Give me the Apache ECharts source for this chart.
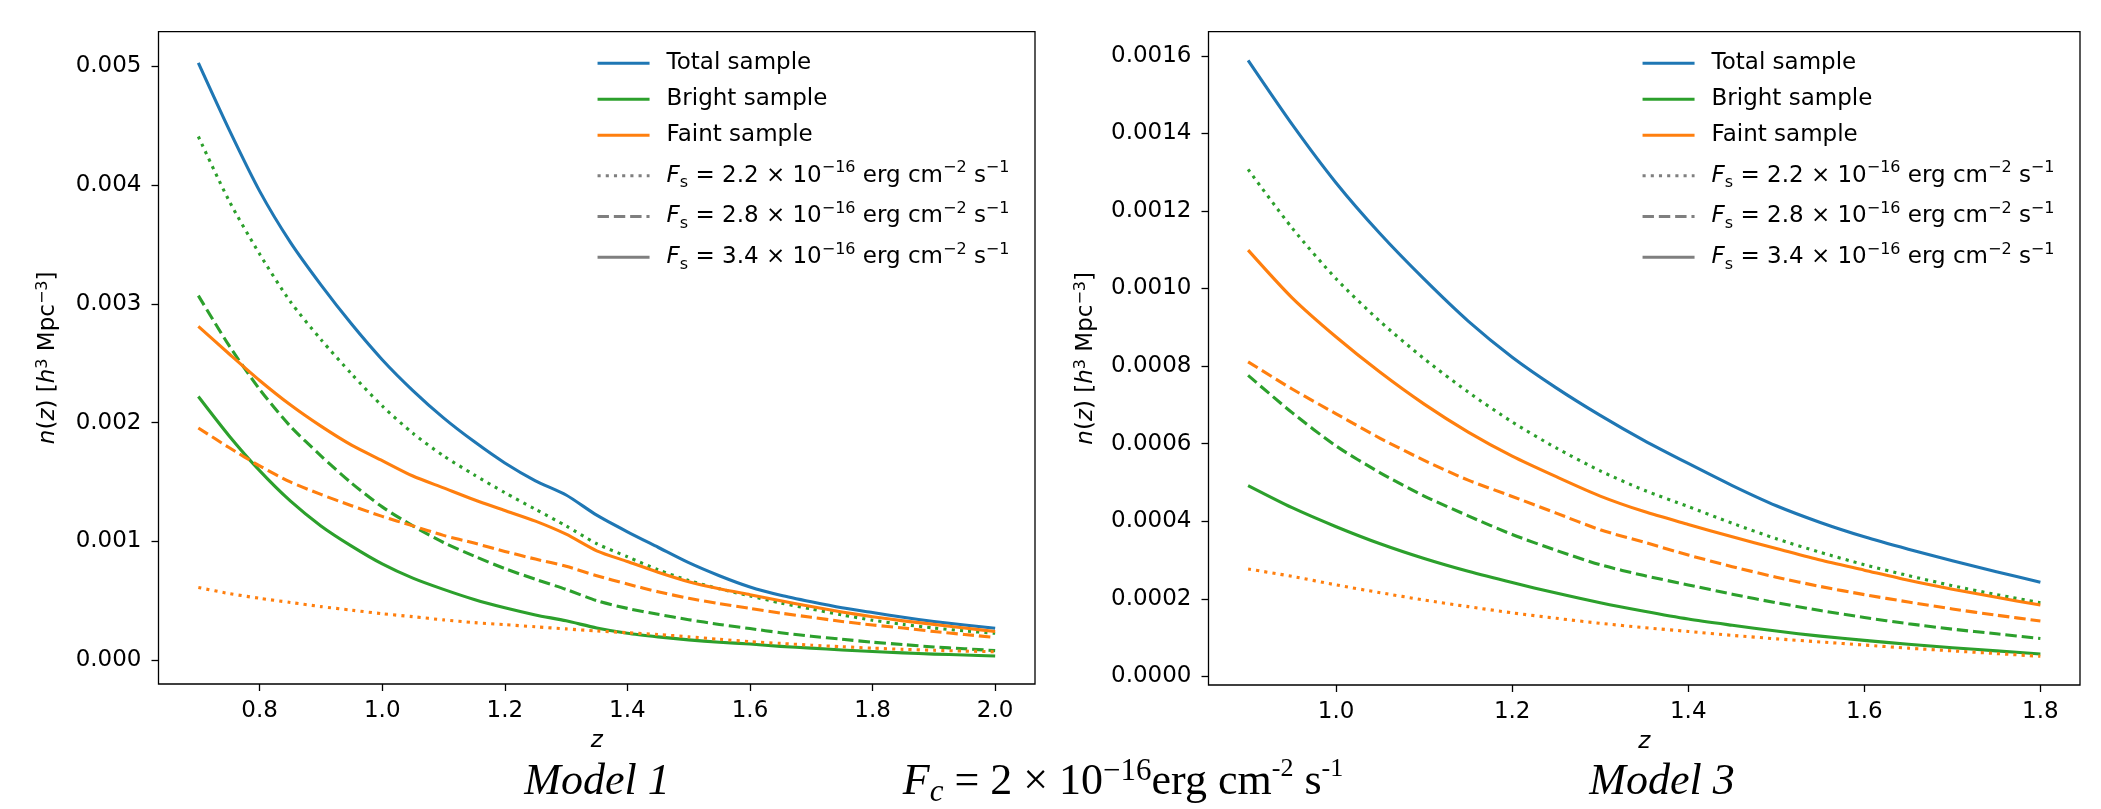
<!DOCTYPE html>
<html><head><meta charset="utf-8">
<script src="https://cdn.jsdelivr.net/npm/echarts@6/dist/echarts.min.js"></script>
<style>html,body{margin:0;padding:0;background:#fff}#c{width:2101px;height:809px}</style>
</head><body><div id="c"></div><script>
// ---------- Model 1 (left panel) ----------
const zM1 = [0.70,0.75,0.80,0.85,0.90,0.95,1.00,1.05,1.10,1.15,1.20,1.25,1.30,1.35,1.40,1.45,1.50,1.55,1.60,1.65,1.70,1.75,1.80,1.85,1.90,1.95,2.00];
const totalM1    = [5.03e-3,4.47e-3,3.95e-3,3.52e-3,3.16e-3,2.83e-3,2.53e-3,2.27e-3,2.04e-3,1.84e-3,1.66e-3,1.51e-3,1.39e-3,1.22e-3,1.08e-3,0.95e-3,0.82e-3,0.71e-3,0.615e-3,0.545e-3,0.49e-3,0.44e-3,0.40e-3,0.36e-3,0.325e-3,0.295e-3,0.267e-3];
const brightM1_22 = [4.41e-3,3.87e-3,3.42e-3,3.02e-3,2.70e-3,2.41e-3,2.14e-3,1.91e-3,1.72e-3,1.56e-3,1.41e-3,1.27e-3,1.13e-3,0.98e-3,0.87e-3,0.76e-3,0.67e-3,0.60e-3,0.54e-3,0.48e-3,0.43e-3,0.38e-3,0.335e-3,0.30e-3,0.27e-3,0.245e-3,0.225e-3];
const brightM1_28 = [3.07e-3,2.65e-3,2.28e-3,1.97e-3,1.72e-3,1.49e-3,1.29e-3,1.13e-3,0.99e-3,0.875e-3,0.77e-3,0.68e-3,0.595e-3,0.50e-3,0.435e-3,0.385e-3,0.34e-3,0.30e-3,0.265e-3,0.23e-3,0.20e-3,0.175e-3,0.15e-3,0.13e-3,0.11e-3,0.095e-3,0.079e-3];
const brightM1_34 = [2.22e-3,1.89e-3,1.595e-3,1.34e-3,1.13e-3,0.96e-3,0.81e-3,0.69e-3,0.595e-3,0.51e-3,0.44e-3,0.38e-3,0.33e-3,0.27e-3,0.225e-3,0.195e-3,0.17e-3,0.15e-3,0.135e-3,0.115e-3,0.10e-3,0.085e-3,0.072e-3,0.06e-3,0.05e-3,0.042e-3,0.034e-3];
const faintM1_22  = [0.611e-3,0.56e-3,0.52e-3,0.485e-3,0.45e-3,0.42e-3,0.39e-3,0.365e-3,0.338e-3,0.315e-3,0.298e-3,0.28e-3,0.262e-3,0.245e-3,0.23e-3,0.215e-3,0.195e-3,0.175e-3,0.155e-3,0.14e-3,0.125e-3,0.112e-3,0.10e-3,0.09e-3,0.082e-3,0.075e-3,0.07e-3];
const faintM1_28  = [1.955e-3,1.79e-3,1.635e-3,1.50e-3,1.395e-3,1.30e-3,1.21e-3,1.13e-3,1.05e-3,0.985e-3,0.915e-3,0.85e-3,0.79e-3,0.71e-3,0.64e-3,0.575e-3,0.52e-3,0.475e-3,0.435e-3,0.395e-3,0.36e-3,0.325e-3,0.295e-3,0.27e-3,0.24e-3,0.215e-3,0.19e-3];
const faintM1_34  = [2.81e-3,2.58e-3,2.355e-3,2.15e-3,1.97e-3,1.81e-3,1.68e-3,1.55e-3,1.45e-3,1.35e-3,1.26e-3,1.17e-3,1.06e-3,0.92e-3,0.83e-3,0.74e-3,0.66e-3,0.60e-3,0.55e-3,0.50e-3,0.45e-3,0.405e-3,0.365e-3,0.33e-3,0.30e-3,0.27e-3,0.24e-3];

// ---------- Model 3 (right panel) ----------
const zM3 = [0.90,0.95,1.00,1.05,1.10,1.15,1.20,1.25,1.30,1.35,1.40,1.45,1.50,1.55,1.60,1.65,1.70,1.75,1.80];
const totalM3     = [15.88e-4,14.23e-4,12.72e-4,11.41e-4,10.24e-4,9.16e-4,8.23e-4,7.44e-4,6.73e-4,6.08e-4,5.49e-4,4.92e-4,4.40e-4,3.97e-4,3.60e-4,3.28e-4,2.98e-4,2.70e-4,2.43e-4];
const brightM3_22 = [13.07e-4,11.56e-4,10.25e-4,9.15e-4,8.19e-4,7.33e-4,6.56e-4,5.89e-4,5.30e-4,4.80e-4,4.38e-4,3.95e-4,3.55e-4,3.20e-4,2.88e-4,2.60e-4,2.34e-4,2.11e-4,1.90e-4];
const brightM3_28 = [7.76e-4,6.80e-4,5.94e-4,5.25e-4,4.65e-4,4.14e-4,3.66e-4,3.25e-4,2.88e-4,2.60e-4,2.36e-4,2.12e-4,1.90e-4,1.70e-4,1.52e-4,1.36e-4,1.22e-4,1.10e-4,0.98e-4];
const brightM3_34 = [4.92e-4,4.35e-4,3.86e-4,3.42e-4,3.04e-4,2.71e-4,2.42e-4,2.15e-4,1.90e-4,1.68e-4,1.48e-4,1.32e-4,1.17e-4,1.04e-4,0.93e-4,0.83e-4,0.74e-4,0.66e-4,0.58e-4];
const faintM3_22  = [2.77e-4,2.58e-4,2.36e-4,2.16e-4,1.97e-4,1.80e-4,1.64e-4,1.50e-4,1.37e-4,1.26e-4,1.16e-4,1.06e-4,0.97e-4,0.89e-4,0.81e-4,0.73e-4,0.66e-4,0.59e-4,0.52e-4];
const faintM3_28  = [8.11e-4,7.41e-4,6.77e-4,6.14e-4,5.57e-4,5.06e-4,4.64e-4,4.21e-4,3.78e-4,3.46e-4,3.13e-4,2.83e-4,2.56e-4,2.32e-4,2.11e-4,1.92e-4,1.74e-4,1.58e-4,1.43e-4];
const faintM3_34  = [10.99e-4,9.76e-4,8.75e-4,7.84e-4,7.02e-4,6.30e-4,5.68e-4,5.15e-4,4.65e-4,4.25e-4,3.92e-4,3.60e-4,3.30e-4,3.00e-4,2.74e-4,2.48e-4,2.25e-4,2.04e-4,1.84e-4];

// ---------- ticks ----------
const xTicksM1 = [0.8,1.0,1.2,1.4,1.6,1.8,2.0];
const yTicksM1 = [0,0.001,0.002,0.003,0.004,0.005];
const xTicksM3 = [1.0,1.2,1.4,1.6,1.8];
const yTicksM3 = [0,0.0002,0.0004,0.0006,0.0008,0.0010,0.0012,0.0014,0.0016];

// ---------- legend labels ----------
const sampleNames = ['Total sample','Bright sample','Faint sample'];
const fluxNames = ['Fs = 2.2e-16','Fs = 2.8e-16','Fs = 3.4e-16'];
const fluxRich = {
  'Fs = 2.2e-16': '{i|F}{sub|s} = 2.2 × 10{sup|−16} erg cm{sup|−2} s{sup|−1}',
  'Fs = 2.8e-16': '{i|F}{sub|s} = 2.8 × 10{sup|−16} erg cm{sup|−2} s{sup|−1}',
  'Fs = 3.4e-16': '{i|F}{sub|s} = 3.4 × 10{sup|−16} erg cm{sup|−2} s{sup|−1}'
};

const BLUE='#1f77b4', GREEN='#2ca02c', ORANGE='#ff7f0e', GRAY='#7f7f7f';
const LW = 3.1;
const DOT = [3.1, 5.1], DASH = [11.4, 4.9];
const FONT = 'DejaVu Sans';

function pairs(z, v){ return z.map((x,i)=>[x, v[i]]); }
function line(name, gi, z, vals, color, type){
  return {type:'line', name, xAxisIndex:gi, yAxisIndex:gi, data: pairs(z, vals),
    symbol:'none', showSymbol:false, animation:false, silent:true, clip:true,
    smooth:0.25,
    lineStyle:{color, width:LW, type, cap:'butt', join:'round'}, itemStyle:{color}};
}
function dummy(name, color, type){
  return {type:'line', name, xAxisIndex:0, yAxisIndex:0, data:[], symbol:'none', showSymbol:false,
    animation:false, lineStyle:{color, width:LW, type, cap:'butt'}, itemStyle:{color}};
}
const tickStyle = {color:'#000', width:1.3};
function xAx(gi, min, max, ticks){
  return {type:'value', gridIndex:gi, min, max, name:'z', nameLocation:'middle', nameGap:46,
    nameTextStyle:{fontFamily:FONT, fontStyle:'italic', fontSize:23, color:'#000'},
    axisLine:{show:false, onZero:false}, splitLine:{show:false},
    axisTick:{show:true, customValues:ticks, length:7, inside:false, lineStyle:tickStyle},
    axisLabel:{show:true, customValues:ticks, formatter:v=>v.toFixed(1), margin:16, fontFamily:FONT, fontSize:23, color:'#000'}};
}
function yAx(gi, min, max, ticks, dec, gap){
  return {type:'value', gridIndex:gi, min, max,
    name:'{i|n}({i|z}) [{i|h}{sup|3} Mpc{sup|−3}]', nameLocation:'middle', nameGap:gap, nameRotate:90,
    nameTextStyle:{fontFamily:FONT, fontSize:23, color:'#000', lineHeight:28,
      rich:{i:{fontFamily:FONT, fontStyle:'italic', fontSize:23, color:'#000', lineHeight:28},
            sup:{fontFamily:FONT, fontSize:16, color:'#000', lineHeight:16, verticalAlign:'top'}}},
    axisLine:{show:false, onZero:false}, splitLine:{show:false},
    axisTick:{show:true, customValues:ticks, length:7, inside:false, lineStyle:tickStyle},
    axisLabel:{show:true, customValues:ticks, formatter:v=>v.toFixed(dec), margin:17, fontFamily:FONT, fontSize:23, color:'#000'}};
}
function legends(left){
  const common = {orient:'vertical', left, padding:0, itemWidth:52, itemHeight:14, selectedMode:false,
    itemStyle:{color:'transparent', borderWidth:0, opacity:0}, lineStyle:{width:LW}};
  return [
    Object.assign({}, common, {top:49.8, itemGap:9, data:sampleNames,
      textStyle:{fontFamily:FONT, fontSize:23, color:'#000', lineHeight:27, padding:[0,0,0,12]}}),
    Object.assign({}, common, {top:160.2, itemGap:9.8, data:fluxNames, formatter:n=>fluxRich[n],
      textStyle:{fontFamily:FONT, fontSize:23, color:'#000', lineHeight:31, padding:[0,0,0,12],
        rich:{i:{fontFamily:FONT, fontStyle:'italic', fontSize:23, color:'#000', lineHeight:31},
              sub:{fontFamily:FONT, fontSize:16, color:'#000', lineHeight:18, verticalAlign:'bottom'},
              sup:{fontFamily:FONT, fontSize:16, color:'#000', lineHeight:18, verticalAlign:'top'}}}})
  ];
}

const series = [
  line('Model 1 total', 0, zM1, totalM1, BLUE, 'solid'),
  line('Model 1 bright 2.2', 0, zM1, brightM1_22, GREEN, DOT),
  line('Model 1 bright 2.8', 0, zM1, brightM1_28, GREEN, DASH),
  line('Model 1 bright 3.4', 0, zM1, brightM1_34, GREEN, 'solid'),
  line('Model 1 faint 2.2', 0, zM1, faintM1_22, ORANGE, DOT),
  line('Model 1 faint 2.8', 0, zM1, faintM1_28, ORANGE, DASH),
  line('Model 1 faint 3.4', 0, zM1, faintM1_34, ORANGE, 'solid'),
  line('Model 3 total', 1, zM3, totalM3, BLUE, 'solid'),
  line('Model 3 bright 2.2', 1, zM3, brightM3_22, GREEN, DOT),
  line('Model 3 bright 2.8', 1, zM3, brightM3_28, GREEN, DASH),
  line('Model 3 bright 3.4', 1, zM3, brightM3_34, GREEN, 'solid'),
  line('Model 3 faint 2.2', 1, zM3, faintM3_22, ORANGE, DOT),
  line('Model 3 faint 2.8', 1, zM3, faintM3_28, ORANGE, DASH),
  line('Model 3 faint 3.4', 1, zM3, faintM3_34, ORANGE, 'solid'),
  dummy(sampleNames[0], BLUE, 'solid'),
  dummy(sampleNames[1], GREEN, 'solid'),
  dummy(sampleNames[2], ORANGE, 'solid'),
  dummy(fluxNames[0], GRAY, DOT),
  dummy(fluxNames[1], GRAY, DASH),
  dummy(fluxNames[2], GRAY, 'solid')
];

const chart = echarts.init(document.getElementById('c'), null, {renderer:'canvas'});
chart.setOption({
  backgroundColor:'#fff',
  animation:false,
  textStyle:{fontFamily:FONT},
  grid:[
    {left:158.5, top:31.7, width:876.5, height:652.3, show:true, borderColor:'#000', borderWidth:1.3, backgroundColor:'transparent'},
    {left:1208.5, top:31.7, width:871.5, height:653.3, show:true, borderColor:'#000', borderWidth:1.3, backgroundColor:'transparent'}
  ],
  xAxis:[ xAx(0, 0.635, 2.065, xTicksM1), xAx(1, 0.855, 1.845, xTicksM3) ],
  yAxis:[ yAx(0, -0.000202, 0.005293, yTicksM1, 3, 96), yAx(1, -0.000022, 0.001662, yTicksM3, 4, 108) ],
  legend:[ ...legends(596), ...legends(1641) ],
  series,
  graphic:[
    {type:'text', x:597, y:782, silent:true, style:{text:'Model 1', font:'italic 44px "Liberation Serif"', fill:'#000', align:'center', verticalAlign:'middle'}},
    {type:'text', x:1662, y:782, silent:true, style:{text:'Model 3', font:'italic 44px "Liberation Serif"', fill:'#000', align:'center', verticalAlign:'middle'}},
    {type:'text', x:1123, y:782, silent:true, style:{
      text:'{i|F}{isub|c} = 2 × 10{sup|−16}erg cm{sup2|-2} s{sup2|-1}',
      font:'44px "Liberation Serif"', fill:'#000', align:'center', verticalAlign:'middle', lineHeight:52,
      rich:{
        i:{fontFamily:'Liberation Serif', fontStyle:'italic', fontSize:44, lineHeight:52, fill:'#000'},
        isub:{fontFamily:'Liberation Serif', fontStyle:'italic', fontSize:31, lineHeight:31, verticalAlign:'bottom', fill:'#000'},
        sup:{fontFamily:'Liberation Serif', fontSize:31, lineHeight:31, verticalAlign:'top', fill:'#000'},
        sup2:{fontFamily:'Liberation Serif', fontSize:26, lineHeight:29, verticalAlign:'top', fill:'#000'}
      }}}
  ]
});
</script></body></html>
